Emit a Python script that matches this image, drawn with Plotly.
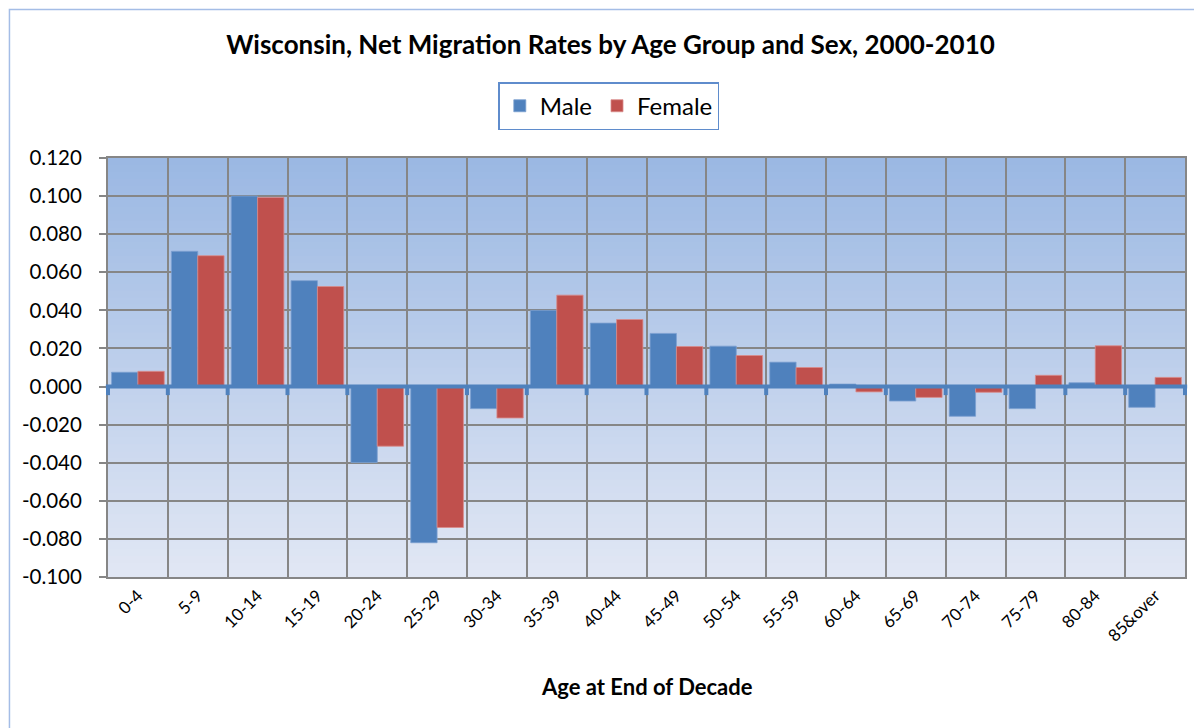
import plotly.graph_objects as go

# data
age_groups = ['0-4', '5-9', '10-14', '15-19', '20-24', '25-29', '30-34', '35-39', '40-44',
              '45-49', '50-54', '55-59', '60-64', '65-69', '70-74', '75-79', '80-84', '85&over']
male = [0.0075, 0.071, 0.100, 0.0556, -0.0399, -0.082, -0.0116, 0.040, 0.0333,
        0.0279, 0.0212, 0.0128, 0.0013, -0.0076, -0.0156, -0.0116, 0.002, -0.0109]
female = [0.008, 0.0687, 0.0993, 0.0525, -0.0313, -0.074, -0.0165, 0.048, 0.0352,
          0.021, 0.0163, 0.010, -0.0028, -0.0057, -0.003, 0.0059, 0.0214, 0.0048]
y_ticks = [0.12, 0.10, 0.08, 0.06, 0.04, 0.02, 0.0, -0.02, -0.04, -0.06, -0.08, -0.10]
y_labels = ['0.120', '0.100', '0.080', '0.060', '0.040', '0.020', '0.000',
            '-0.020', '-0.040', '-0.060', '-0.080', '-0.100']

FONT = 'Lato'
GRID = '#868686'
BLUE = '#4f81bd'

fig = go.Figure()
fig.add_trace(go.Bar(x=age_groups, y=male, name='Male',
                     marker=dict(color=BLUE, line=dict(color='#7b9fd0', width=0.8))))
fig.add_trace(go.Bar(x=age_groups, y=female, name='Female',
                     marker=dict(color='#c0504d', line=dict(color='#d98c8a', width=0.8))))

# vertical gradient background of the plot area (stacked rects, no seams)
top, bottom = (155, 184, 227), (225, 231, 244)
n = 60
shapes = []
for i in range(n):
    t = i / (n - 1)
    c = tuple(round(top[k] + (bottom[k] - top[k]) * t) for k in range(3))
    shapes.append(dict(type='rect', xref='x domain', yref='y domain',
                       x0=0, x1=1, y0=0, y1=1 - i / n,
                       fillcolor='rgb(%d,%d,%d)' % c, line_width=0, layer='below'))
# outer chart frame (light blue, right/bottom edges cut off)
shapes.append(dict(type='rect', xref='paper', yref='paper', x0=-0.0915, x1=1.2,
                   y0=-0.6, y1=1.3545, line=dict(color='#a4bde6', width=1.5),
                   fillcolor='rgba(0,0,0,0)', layer='below'))
# thick blue zero axis with its small tick marks at category boundaries
shapes.append(dict(type='line', xref='x domain', yref='y', x0=-0.002, x1=1.002, y0=0, y1=0,
                   line=dict(color=BLUE, width=4), layer='above'))
for i in range(len(age_groups) + 1):
    shapes.append(dict(type='line', xref='x domain', yref='y', x0=i / len(age_groups),
                       x1=i / len(age_groups), y0=0, y1=-0.0045,
                       line=dict(color=BLUE, width=4), layer='above'))
fig.update_layout(shapes=shapes)

fig.update_layout(
    width=1194, height=720,
    margin=dict(l=100, r=17, t=150, b=151),
    paper_bgcolor='white', plot_bgcolor='white',
    font=dict(family=FONT, color='black'),
    title=dict(text='<b>Wisconsin, Net Migration Rates by Age Group and Sex, 2000-2010</b>',
               x=0.5046, xanchor='center', y=0.949, yanchor='middle',
               font=dict(size=26, family=FONT)),
    barmode='group', bargap=0.12, bargroupgap=0,
    showlegend=True,
    legend=dict(orientation='h', x=0.465, xanchor='center', y=1.181, yanchor='top',
                bordercolor='#5f8ccc', borderwidth=1.5, bgcolor='white',
                font=dict(size=24, family=FONT), itemwidth=30, tracegroupgap=0),
    xaxis=dict(type='category', tickson='boundaries', showgrid=True, gridcolor=GRID, gridwidth=2,
               ticks='', tickangle=-45, tickfont=dict(size=17, family=FONT),
               showline=True, linecolor=GRID, linewidth=2, mirror=True),
    yaxis=dict(range=[-0.1, 0.12], tickvals=y_ticks, ticktext=y_labels,
               showgrid=True, gridcolor=GRID, gridwidth=2, zeroline=False,
               ticks='outside', ticklen=7, tickcolor=GRID, tickwidth=2,
               ticklabelstandoff=13,
               tickfont=dict(size=20.5, family=FONT),
               showline=True, linecolor=GRID, linewidth=2, mirror=True),
    annotations=[dict(text='<b>Age at End of Decade</b>', xref='paper', yref='paper',
                      x=0.5, y=-0.262, xanchor='center', yanchor='middle', showarrow=False,
                      font=dict(size=22, family=FONT))],
)

fig.write_html('out.html')
